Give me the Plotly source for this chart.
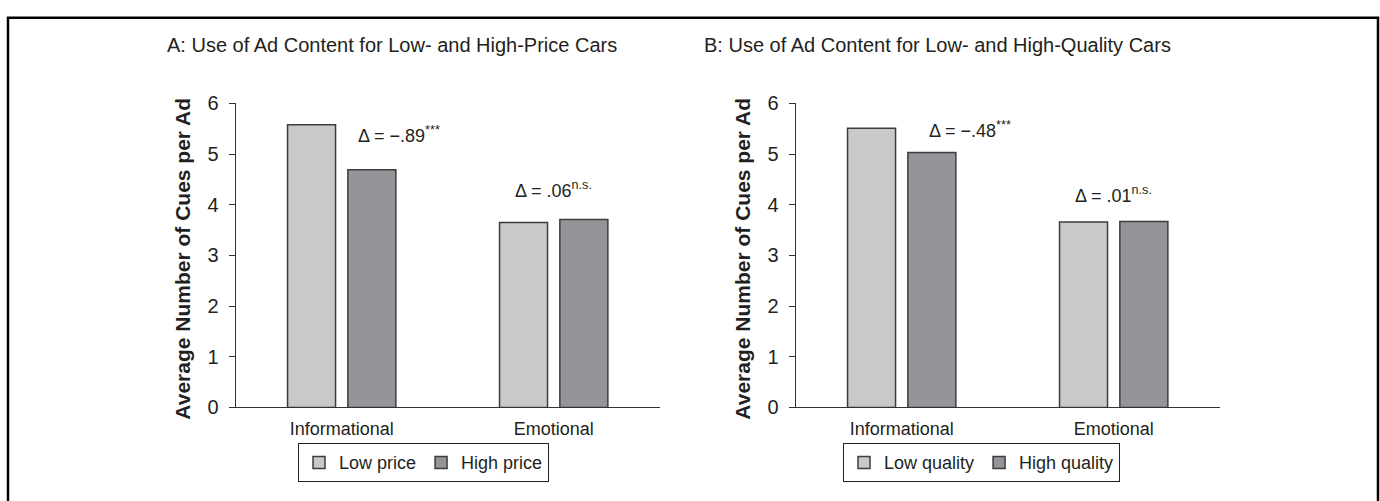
import plotly.graph_objects as go

categories = ["Informational", "Emotional"]

price_low = [5.58, 3.65]
price_high = [4.69, 3.71]
quality_low = [5.51, 3.66]
quality_high = [5.03, 3.67]

panel_titles = [
    "A: Use of Ad Content for Low- and High-Price Cars",
    "B: Use of Ad Content for Low- and High-Quality Cars",
]
legend_names_a = ["Low price", "High price"]
legend_names_b = ["Low quality", "High quality"]
y_title = "Average Number of Cues per Ad"
y_ticks = [0, 1, 2, 3, 4, 5, 6]

delta_a = ["Δ = −.89<sup>***</sup>", "Δ = .06<sup>n.s.</sup>"]
delta_b = ["Δ = −.48<sup>***</sup>", "Δ = .01<sup>n.s.</sup>"]
delta_a_pos = [(0.27, 5.38), (1.0, 4.30)]
delta_b_pos = [(0.32, 5.48), (1.0, 4.20)]

LIGHT = "#c8c9cb"
DARK = "#939598"
EDGE = "#3c3c3c"
TXT = "#231f20"
FONT = "Liberation Sans, Arial, sans-serif"

W, H = 1380, 501


def px(x):
    return x / W


def py(y):
    return 1 - y / H


fig = go.Figure()

fig.add_trace(go.Bar(x=categories, y=price_low, name=legend_names_a[0],
                     marker=dict(color=LIGHT, line=dict(color=EDGE, width=1.5)),
                     xaxis="x", yaxis="y", legend="legend"))
fig.add_trace(go.Bar(x=categories, y=price_high, name=legend_names_a[1],
                     marker=dict(color=DARK, line=dict(color=EDGE, width=1.5)),
                     xaxis="x", yaxis="y", legend="legend"))
fig.add_trace(go.Bar(x=categories, y=quality_low, name=legend_names_b[0],
                     marker=dict(color=LIGHT, line=dict(color=EDGE, width=1.5)),
                     xaxis="x2", yaxis="y2", legend="legend2"))
fig.add_trace(go.Bar(x=categories, y=quality_high, name=legend_names_b[1],
                     marker=dict(color=DARK, line=dict(color=EDGE, width=1.5)),
                     xaxis="x2", yaxis="y2", legend="legend2"))

xdom_a = [px(235.7), px(659.7)]
xdom_b = [px(795.7), px(1219.7)]
ydom = [py(414.7), py(96.7)]

xaxis_common = dict(
    type="category", range=[-0.5, 1.5], showline=True, linecolor="#333333",
    linewidth=1, ticks="", showgrid=False, zeroline=False, ticklabelstandoff=5,
    tickfont=dict(family=FONT, size=18, color=TXT), fixedrange=True,
)
yaxis_common = dict(
    range=[0, 6], tickvals=y_ticks, showline=True, linecolor="#333333",
    linewidth=1, ticks="outside", ticklen=6, tickcolor="#333333",
    showgrid=False, zeroline=False, ticklabelstandoff=6,
    tickfont=dict(family=FONT, size=20, color=TXT), fixedrange=True,
)

legend_common = dict(
    orientation="h", bgcolor="white", bordercolor="#222222", borderwidth=1,
    font=dict(family=FONT, size=18, color=TXT), itemwidth=30,
    xanchor="left", yanchor="middle", traceorder="normal",
    itemclick=False, itemdoubleclick=False,
)

annotations = []
for i, t in enumerate(panel_titles):
    annotations.append(dict(
        text=t, xref="paper", yref="paper", x=px([165, 702][i]), y=py(36),
        xanchor="left", yanchor="middle", showarrow=False,
        font=dict(family=FONT, size=20, color=TXT),
    ))
for xc in (183, 743):
    annotations.append(dict(
        text="<b>" + y_title + "</b>", xref="paper", yref="paper",
        x=px(xc), y=py(259), textangle=-90, showarrow=False,
        xanchor="center", yanchor="middle",
        font=dict(family=FONT, size=21, color=TXT),
    ))
for txt, (ax, ay) in zip(delta_a, delta_a_pos):
    annotations.append(dict(text=txt, xref="x", yref="y", x=ax, y=ay,
                            showarrow=False,
                            font=dict(family=FONT, size=18, color=TXT)))
for txt, (ax, ay) in zip(delta_b, delta_b_pos):
    annotations.append(dict(text=txt, xref="x2", yref="y2", x=ax, y=ay,
                            showarrow=False,
                            font=dict(family=FONT, size=18, color=TXT)))

fig.update_layout(
    width=W, height=H, autosize=False,
    margin=dict(l=0, r=0, t=0, b=0),
    paper_bgcolor="white", plot_bgcolor="white",
    barmode="group", bargap=0.431, bargroupgap=0.204,
    xaxis=dict(domain=xdom_a, anchor="y", **xaxis_common),
    yaxis=dict(domain=ydom, anchor="x", **yaxis_common),
    xaxis2=dict(domain=xdom_b, anchor="y2", **xaxis_common),
    yaxis2=dict(domain=ydom, anchor="x2", **yaxis_common),
    legend=dict(x=px(298), y=py(472.5), **legend_common),
    legend2=dict(x=px(843), y=py(472.5), **legend_common),
    annotations=annotations,
    shapes=[dict(type="rect", xref="paper", yref="paper",
                 x0=px(8), x1=px(1378), y0=-0.1, y1=py(7),
                 line=dict(color="black", width=2.5), fillcolor="rgba(0,0,0,0)")],
    showlegend=True,
)

fig.write_html(
    "out.html",
    config={"displayModeBar": False},
    post_script="document.body.style.margin='0';document.body.style.overflow='hidden';",
)
